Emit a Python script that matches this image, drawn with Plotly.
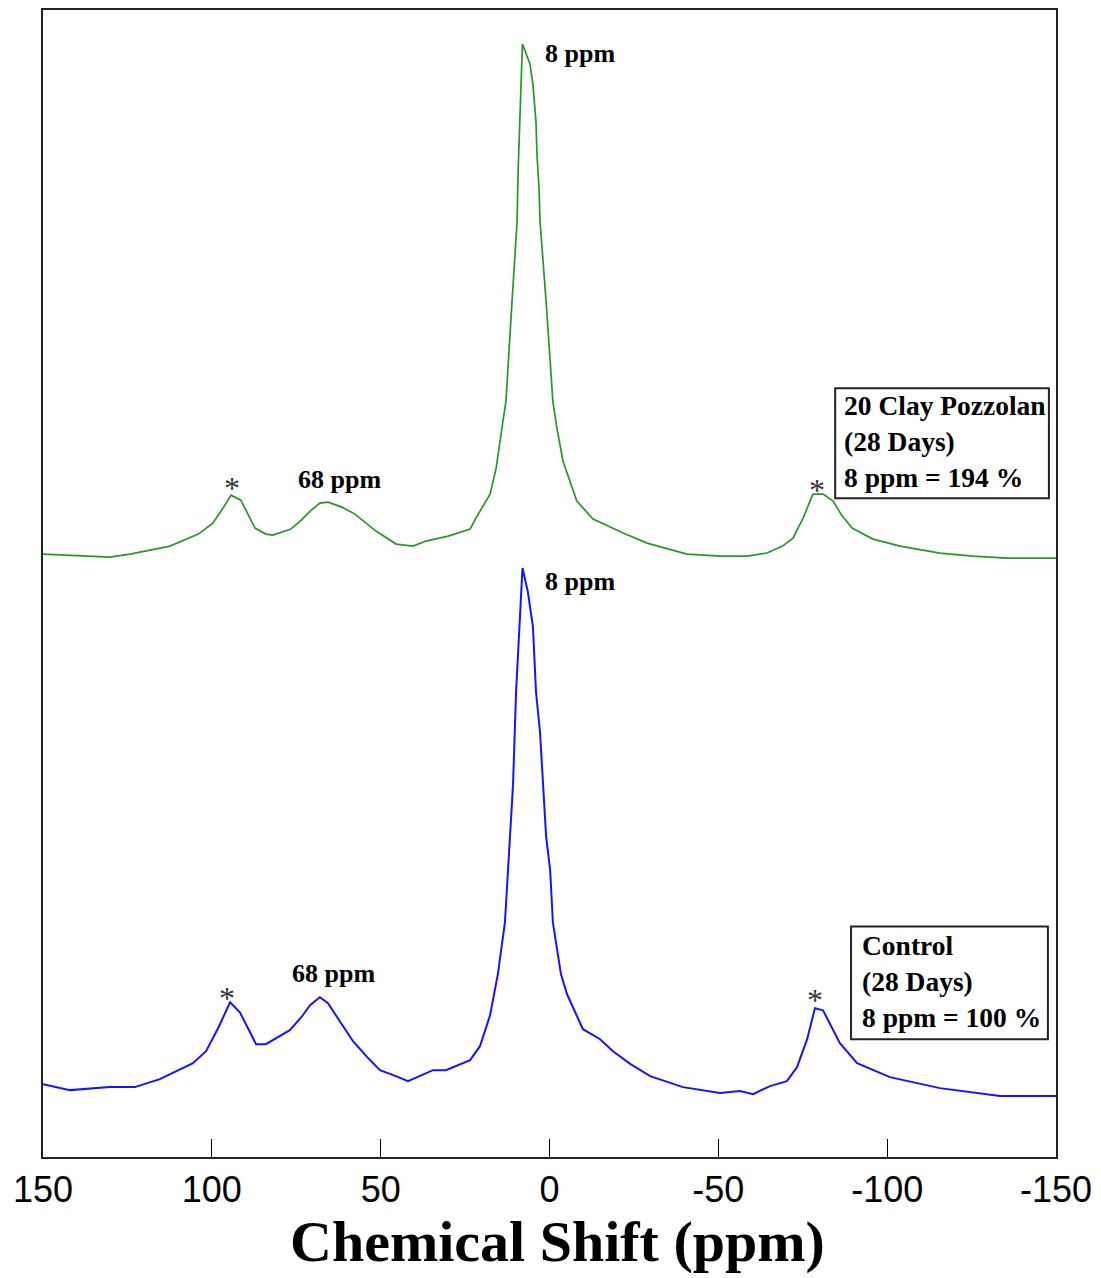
import plotly.graph_objects as go

# 27Al MAS NMR spectra, stacked: chemical shift (ppm) vs. intensity (a.u., offset)
clay_ppm = [150.0, 138.2, 130.2, 124.2, 112.4, 104.0, 99.7, 96.5, 94.3, 91.4, 87.2, 84.0,
            81.9, 76.6, 73.5, 70.9, 68.0, 65.6, 61.5, 57.6, 51.4, 45.4, 40.4, 36.6,
            30.0, 23.5, 21.8, 17.6, 15.8, 13.8, 12.9, 11.1, 9.6, 9.3, 8.7, 8.3, 8.0,
            7.3, 5.8, 4.9, 4.0, 3.7, 3.1, 2.8, 1.0, -1.0, -2.2, -4.0, -8.1, -12.9,
            -21.8, -28.9, -40.7, -50.5, -58.5, -64.4, -69.0, -72.1, -75.1, -78.0,
            -81.0, -84.0, -86.5, -89.6, -95.8, -103.8, -115.6, -125.4, -135.5, -150.0]
clay_int = [604, 602, 601, 604, 612, 624, 635, 651, 663, 658, 630, 624,
            623, 629, 638, 647, 655, 656, 651, 644, 627, 614, 612, 617,
            622, 629, 640, 664, 690, 737, 757, 857, 937, 987, 1037, 1087, 1115,
            1109, 1095, 1074, 1037, 1004, 970, 937, 857, 757, 730, 697, 657, 639,
            625, 615, 604, 602, 602, 605, 612, 620, 640, 664,
            664, 657, 643, 630, 619, 612, 605, 602, 600, 600]

control_ppm = [150.0, 142.0, 130.2, 122.8, 115.4, 105.6, 101.7, 98.0, 94.6, 91.7, 86.9,
               84.0, 76.9, 73.5, 70.9, 68.0, 65.6, 62.0, 58.2, 54.0, 50.2, 45.5, 41.9,
               34.5, 30.7, 23.5, 20.6, 17.6, 15.3, 13.2, 12.3, 10.8, 9.9, 9.0, 8.0, 6.4,
               4.9, 4.0, 2.8, 1.9, 1.0, -0.2, -1.0, -3.4, -5.2, -9.9, -15.0, -18.8,
               -24.0, -29.8, -39.5, -50.5, -56.4, -60.3, -65.3, -70.3, -73.3, -76.3,
               -78.6, -81.0, -86.0, -91.1, -100.8, -115.6, -133.4, -150.0]
control_int = [73, 67, 70, 70, 78, 94, 106, 130, 155, 145, 113,
               113, 127, 140, 152, 160, 154, 136, 116, 100, 87, 81, 76,
               87, 87, 97, 111, 142, 183, 235, 287, 373, 466, 528, 590, 566,
               531, 466, 425, 373, 321, 287, 235, 183, 163, 128, 118, 106,
               93, 81, 70, 64, 66, 63, 71, 76, 90, 118,
               149, 147, 114, 94, 80, 69, 61, 61]

tick_vals = [150, 100, 50, 0, -50, -100, -150]

SERIF = "Liberation Serif, Times New Roman, serif"
SANS_NARROW = "Liberation Sans Narrow, Arial Narrow, Liberation Sans, Arial, sans-serif"

fig = go.Figure()
fig.add_trace(go.Scatter(x=clay_ppm, y=clay_int, mode="lines",
                         line=dict(color="rgb(40,150,40)", width=1.7),
                         name="20 Clay Pozzolan", showlegend=False))
fig.add_trace(go.Scatter(x=control_ppm, y=control_int, mode="lines",
                         line=dict(color="rgb(20,20,255)", width=2),
                         name="Control", showlegend=False))

label_font = dict(family=SERIF, size=26, color="black", weight="bold")
box_font = dict(family=SERIF, size=27.5, color="black", weight="bold")
star_font = dict(family=SERIF, size=32, color="#333333")

annotations = [
    # peak labels
    dict(x=1.9, y=1105, text="8 ppm", xanchor="left", yanchor="middle", font=label_font),
    dict(x=1.9, y=577, text="8 ppm", xanchor="left", yanchor="middle", font=label_font),
    dict(x=62.3, y=679, text="68 ppm", xanchor="center", yanchor="middle", font=label_font),
    dict(x=64.1, y=184, text="68 ppm", xanchor="center", yanchor="middle", font=label_font),
    # spinning sidebands
    dict(x=94.0, y=670, text="*", xanchor="center", yanchor="middle", font=star_font),
    dict(x=-79.2, y=668, text="*", xanchor="center", yanchor="middle", font=star_font),
    dict(x=95.5, y=159, text="*", xanchor="center", yanchor="middle", font=star_font),
    dict(x=-78.6, y=157, text="*", xanchor="center", yanchor="middle", font=star_font),
    # sample boxes
    dict(x=-86.6, y=717, text="20 Clay Pozzolan<br>(28 Days)<br>8 ppm = 194 %",
         xanchor="left", yanchor="middle", align="left", font=box_font),
    dict(x=-91.9, y=176, text="Control<br>(28 Days)<br>8 ppm = 100 %",
         xanchor="left", yanchor="middle", align="left", font=box_font),
    # axis title
    dict(xref="paper", yref="paper", x=0.508, y=-0.0735, text="Chemical Shift (ppm)",
         showarrow=False, xanchor="center", yanchor="middle",
         font=dict(family=SERIF, size=58, color="black", weight="bold")),
]
for a in annotations:
    a.setdefault("showarrow", False)

shapes = [
    dict(type="rect", x0=-84.6, x1=-147.9, y0=660, y1=770,
         line=dict(color="#222222", width=2), fillcolor="rgba(0,0,0,0)"),
    dict(type="rect", x0=-89.3, x1=-147.6, y0=118, y1=231,
         line=dict(color="#222222", width=2), fillcolor="rgba(0,0,0,0)"),
]

fig.update_layout(
    width=1101, height=1278,
    margin=dict(l=43, r=45, t=8, b=121),
    paper_bgcolor="white", plot_bgcolor="white",
    annotations=annotations, shapes=shapes,
    showlegend=False,
)
fig.update_xaxes(
    range=[150, -150], tickvals=tick_vals, ticktext=[str(v) for v in tick_vals],
    ticks="inside", ticklen=18, tickwidth=1, tickcolor="black",
    showline=True, linecolor="#222222", linewidth=2, mirror=True,
    showgrid=False, zeroline=False,
    tickfont=dict(family=SANS_NARROW, size=36, color="black"),
)
fig.update_yaxes(
    range=[0, 1149], showticklabels=False, ticks="",
    showline=True, linecolor="#222222", linewidth=2, mirror=True,
    showgrid=False, zeroline=False,
)

fig.write_html("out.html")
